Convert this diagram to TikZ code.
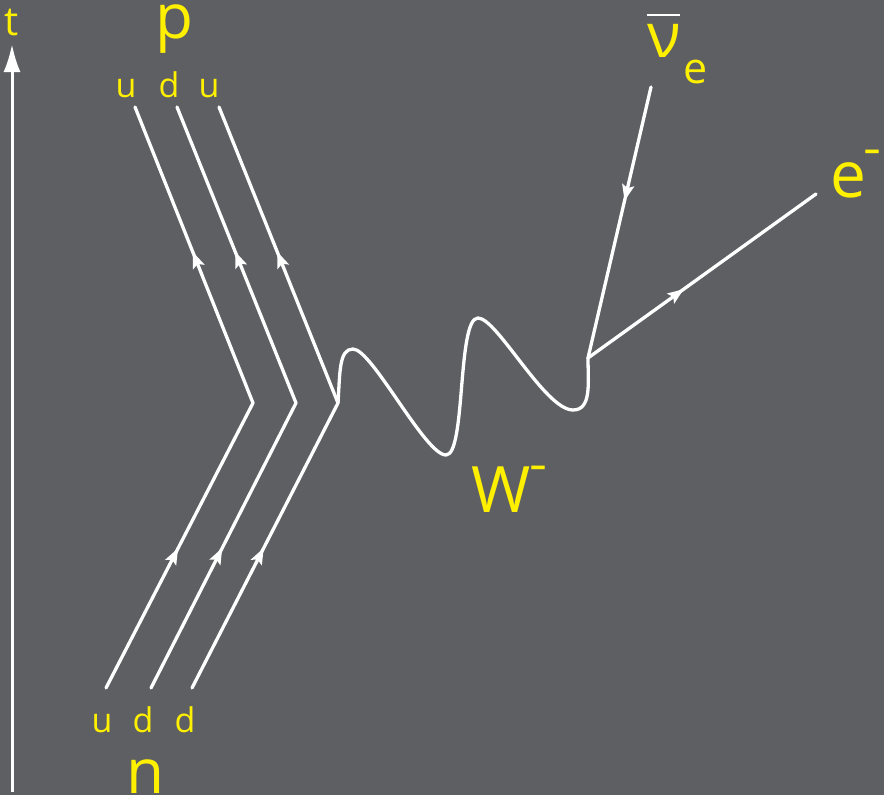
\documentclass[tikz,border=0pt]{standalone}
\usepackage{fontspec}
\setmainfont{Open Sans}
\usetikzlibrary{arrows.meta,decorations.markings}
\definecolor{bggray}{RGB}{93,95,99}
\definecolor{labyellow}{RGB}{255,240,0}
\tikzset{
  fline/.style={draw=white,line width=3.3pt,line cap=round,line join=round},
  lab/.style={text=labyellow,inner sep=0pt,anchor=base},
  arrowsat/.style 2 args={postaction={decorate},decoration={markings,
    mark=at position #1 with {\arrow{Stealth[length=16pt,width=12pt,inset=3pt,white]}},
    mark=at position #2 with {\arrow{Stealth[length=16pt,width=12pt,inset=3pt,white]}}}},
  arrowat/.style={postaction={decorate},decoration={markings,
    mark=at position #1 with {\arrow{Stealth[length=16pt,width=12pt,inset=3pt,white]}}}},
}
\begin{document}
\begin{tikzpicture}[x=1pt,y=-1pt]
\fill[bggray] (0,0) rectangle (884,795);
\useasboundingbox (0,0) rectangle (884,795);
% time axis
\coordinate (tb) at (12,792);
\coordinate (tt) at (12,44);
\draw[white,line width=3pt,-{Latex[length=28pt,width=17pt]}] (tb) -- (tt);
\node[lab,font=\fontsize{40}{40}\selectfont] (tlab) at (12,35) {t};
% quark lines
\coordinate (q1b) at (106,688); \coordinate (q1k) at (253,403); \coordinate (q1t) at (135,107);
\coordinate (q2b) at (151,688); \coordinate (q2k) at (296,403); \coordinate (q2t) at (177,107);
\coordinate (q3b) at (192,688); \coordinate (q3k) at (338,403); \coordinate (q3t) at (219,107);
\draw[fline,arrowsat={0.246}{0.756}] (q1b) -- (q1k) -- (q1t);
\draw[fline,arrowsat={0.246}{0.756}] (q2b) -- (q2k) -- (q2t);
\draw[fline,arrowsat={0.246}{0.756}] (q3b) -- (q3k) -- (q3t);
% W boson wave
\coordinate (v2) at (588,358);
\draw[fline] (q3k) .. controls (340,372) and (339,349) .. (353,349)
  .. controls (372,349) and (425,455) .. (446,455)
  .. controls (466,455) and (457,318) .. (478,318)
  .. controls (497,318) and (545,410) .. (573,410)
  .. controls (592,410) and (588,382) .. (v2);
% leptons
\coordinate (nut) at (651,87);
\coordinate (et) at (816,194);
\draw[fline,arrowat=0.42] (nut) -- (v2);
\draw[fline,arrowat=0.42] (v2) -- (et);
% labels
\node[lab,font=\fontsize{62}{62}\selectfont] (plab) at (174,38) {p};
\node[lab,font=\fontsize{34}{34}\selectfont] (pu1) at (126,97) {u};
\node[lab,font=\fontsize{34}{34}\selectfont] (pd) at (169,97) {d};
\node[lab,font=\fontsize{34}{34}\selectfont] (pu2) at (209,97) {u};
\node[lab,font=\fontsize{34}{34}\selectfont] (nu1) at (102,732) {u};
\node[lab,font=\fontsize{34}{34}\selectfont] (nd1) at (143,732) {d};
\node[lab,font=\fontsize{34}{34}\selectfont] (nd2) at (185,732) {d};
\node[lab,font=\fontsize{62}{62}\selectfont] (nlab) at (146,793) {n};
\node[lab,font=\fontsize{64}{64}\selectfont] (wlab) at (501,512) {W};
\node[lab,font=\bfseries\fontsize{32}{32}\selectfont,anchor=center] (wminus) at (538,471) {–};
\node[lab,font=\fontsize{64}{64}\selectfont] (elab) at (848,197) {e};
\node[lab,font=\bfseries\fontsize{32}{32}\selectfont,anchor=center] (eminus) at (872,155) {–};
\node[lab,font=\fontsize{62}{62}\selectfont] (nulab) at (664,57) {ν};
\coordinate (barl) at (647,15); \coordinate (barr) at (680,15);
\draw[white,line width=2.5pt] (barl) -- (barr);
\node[lab,font=\fontsize{43}{43}\selectfont] (nusub) at (696,83) {e};
\end{tikzpicture}
\end{document}
